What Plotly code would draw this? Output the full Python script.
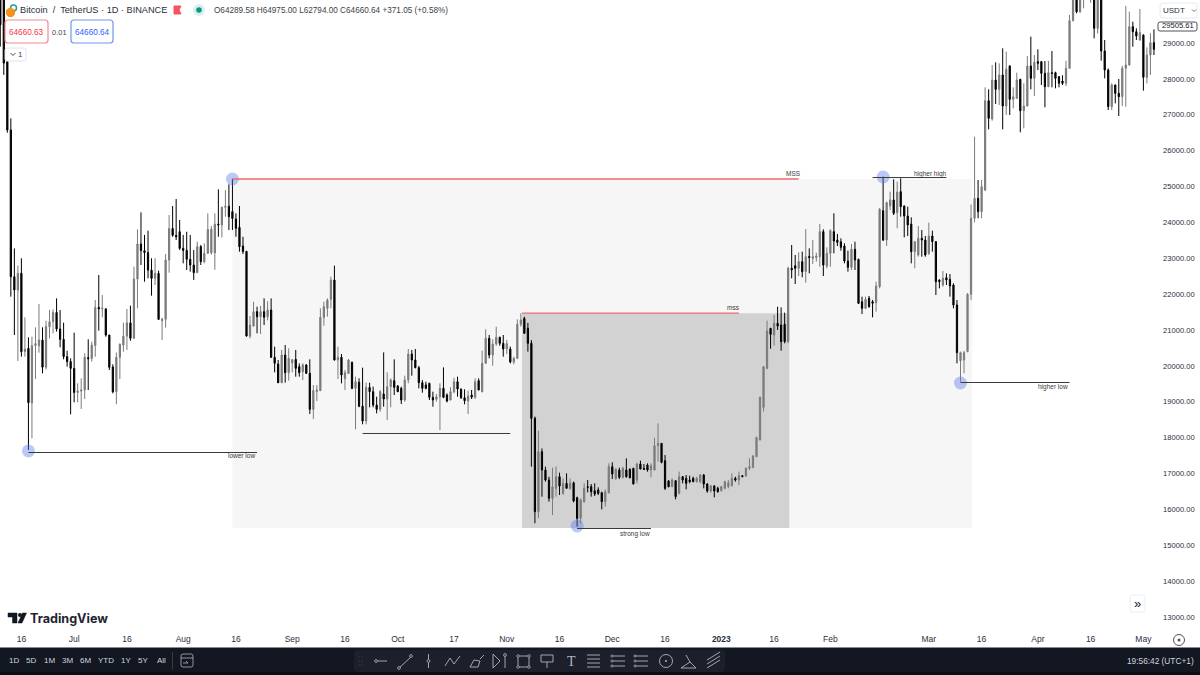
import pandas as pd
import plotly.graph_objects as go

first_day = "2022-06-10"
opens = [
30400,30200,28480,26575,22487,22116,22583,20400,20490,18970,
20570,20560,20720,19965,21090,21230,21490,21030,20740,20260,
20120,19930,19260,19300,19330,20230,20210,20570,21630,21590,
21590,20860,19970,19280,20240,20580,20830,21200,20770,22420,
23400,23210,23160,22670,22440,22580,21260,21300,22950,23830,
23640,23740,23277,23220,22970,22812,22600,23323,22905,23138,
23150,23150,23954,23930,24420,24450,24300,24094,23862,23340,
23190,20830,21112,21512,21370,21512,21370,21558,20239,20053,
19533,20304,19812,20084,20180,19980,19840,20025,19793,18790,
19290,19310,21354,21605,21855,22394,20165,20240,19647,19790,
20100,19375,19545,18880,18465,19402,19282,18910,18790,19217,
19078,19422,19589,19440,19375,19050,19608,20332,20165,19951,
19533,19470,19515,19124,19068,19140,19375,19190,19050,19282,
19560,19350,19115,19022,19190,19130,19590,19282,20072,20769,
20304,20610,20797,20630,20472,20470,20110,20210,21158,21326,
21047,20630,18539,15938,17610,17100,16820,16310,16590,16913,
16450,16728,16590,16746,16328,15752,16217,16635,16635,16523,
16542,16467,16217,16467,17192,16867,17099,16895,17099,17118,
17146,16820,17266,17146,17238,17099,17099,17777,17842,17359,
16793,16635,16802,16449,16913,16867,16820,16867,16774,16774,
16960,16709,16514,16653,16588,16523,16588,16635,16663,16867,
16820,16941,16932,17146,17173,17471,17935,18846,19933,21047,
20862,21187,21140,21159,20680,22720,22790,22720,22905,22630,
23050,23000,23020,23045,23742,22785,23138,23742,23510,23460,
23342,22924,22748,23250,22970,21790,21605,21885,21790,21763,
22209,24327,23509,24458,24624,24271,24856,24457,24178,23955,
23184,23091,23556,23510,23138,23621,23463,22394,22255,22460,
22413,22255,21698,20146,20165,20400,21995,24113,24670,24298,
24900,27392,26881,27968,27708,28108,27244,28358,27430,27457,
27987,27114,27244,28358,28015,28480,28480,28154,27782,28173,
28173,28060,27940,27875,28294,29622,30210,29870,30400,30480,
30310,30320,29408,30380,28777,28247,27225,27829,27597,27504,
28294,28387,29455,29315,29083,29223,28043,28665,29009,
]
highs = [
30500,30400,28526,26900,23275,22800,23000,21355,20797,20815,
21075,21726,21075,21260,21558,21577,21883,21558,21205,20425,
20211,20927,19515,19654,20350,20741,20676,21837,22534,21976,
21600,20870,20044,20370,20629,21205,21586,21679,22766,23806,
24280,23650,23769,23000,23000,22655,21340,23119,24206,24457,
24652,24066,23650,23740,23650,23230,23463,23370,23416,24250,
23900,24250,24921,24440,24900,25060,25210,24252,24457,23600,
23210,21391,21790,21651,21670,21883,21800,21883,20536,20165,
20444,20583,20490,20183,20444,20070,20072,20050,20183,19468,
19468,21605,21790,21883,22487,22794,20536,20332,19885,20193,
20120,19700,19654,19951,19533,19533,19422,19143,19329,20378,
19821,19654,20183,19468,19422,19728,20471,20444,20471,20000,
19607,19561,19533,19282,19217,19515,19960,19236,19403,19672,
19700,19375,19347,19310,19329,19654,19654,20425,21020,20862,
20741,21094,20815,20862,20722,20540,20258,21298,21465,21370,
21200,20720,18590,18195,17700,17192,16910,17164,17192,17025,
16867,17006,16867,16774,16356,16310,16728,16820,16709,16728,
16616,16495,16560,17285,17313,17146,17164,17192,17424,17146,
17160,17304,17359,17266,17285,17285,18000,18400,17850,17517,
16820,16867,16815,17053,16932,16960,16941,16913,16913,16988,
16988,16730,16681,16681,16635,16655,16802,16820,17006,16913,
17053,16960,17173,17424,17517,18028,19143,19998,21261,21060,
21419,21651,21633,21484,22766,23370,23091,23166,23184,23816,
23277,23509,23156,23955,23807,23305,23807,24253,23677,23556,
23417,23212,23398,23463,22990,21930,21930,21949,21840,22348,
24400,25275,24578,24856,25200,25135,25228,24470,24438,24141,
23480,23900,23788,23621,23992,23770,23480,22413,22645,22580,
22562,22302,21837,20400,20420,22030,24500,26389,25181,25181,
27764,27708,28386,28461,28433,28851,28758,28380,27764,28173,
28000,27875,28637,29176,28665,28823,28500,28498,28498,28777,
28200,28080,28100,28507,29780,30550,30600,30620,31000,30600,
30540,30340,30400,30400,29083,28290,27875,27840,27996,28368,
30031,29873,29594,29408,29947,29240,28879,29269,29380,
]
lows = [
28900,28110,26500,21930,20862,20137,20258,20258,17657,17982,
19635,20370,19793,19900,20769,20908,20955,20518,20183,19979,
18651,18985,18985,18800,19078,19329,20119,20258,20982,21354,
20815,19886,19236,18930,19635,20397,20444,20700,20760,21605,
22813,22348,22441,21958,22255,21280,20722,21066,22599,23600,
23509,23230,22859,22673,22627,22395,22590,22812,22859,23130,
23100,22680,23600,23580,24160,23788,23788,23600,23184,23120,
20815,20769,21100,20908,20889,21140,21270,20230,19821,19520,
19520,19533,19589,19821,19700,19700,19607,19780,18660,18520,
19022,19300,21122,21373,21605,20150,19635,19514,19329,19780,
19350,18232,18850,18372,18372,18846,18846,18678,18725,18864,
18493,18846,19189,19270,18938,19004,19515,19728,19933,19375,
19254,19347,19050,18864,19004,18214,19100,18985,19040,19236,
19143,19078,18929,18660,19078,19078,19320,19264,20060,20211,
20007,20564,20564,20258,20332,20072,20044,20190,21094,20890,
20397,17192,15613,15752,16356,16774,16217,15845,16356,16403,
16403,16580,16542,16198,15520,15613,16189,16477,16356,16375,
16403,16003,16077,16449,16848,16820,16848,16867,16885,16867,
16700,16728,17120,17099,17053,16895,17090,17331,17285,16542,
16616,16630,16282,16421,16728,16560,16730,16760,16750,16730,
16588,16467,16467,16337,16467,16495,16560,16590,16640,16775,
16681,16905,16915,17099,17145,17455,17930,18725,19905,20480,
20565,21000,20425,20630,20630,22441,22283,22506,22469,22320,
22580,22840,22905,22766,22506,22720,22766,23138,23342,23212,
22859,22627,22673,22673,21725,21447,21590,21620,21354,21512,
22162,23480,23342,24346,24206,23835,24160,23584,23621,22859,
22720,23045,23045,23045,23091,23184,21977,22162,22209,22255,
21930,21605,20072,19560,19793,20380,21837,24000,24113,24113,
24880,26593,26835,27300,27272,26593,26993,26993,27179,27440,
26510,26621,27230,27708,27522,28247,27829,27207,27770,27764,
27736,27764,27830,27800,28280,29600,29826,29840,29966,30220,
30120,29130,29265,28507,28015,27132,27130,27318,26965,27244,
27225,28370,28897,29083,29065,27671,27875,28108,28665,
]
closes = [
29500,28440,26575,22487,22116,22580,20397,20470,18976,20565,
20620,20720,19965,21095,21230,21490,21030,20740,20258,20120,
19930,19260,19300,19330,20240,20200,20580,21630,21590,21610,
20860,19960,19280,20240,20600,20830,21200,20770,22422,23398,
23210,23160,22670,22440,22580,21298,21300,22952,23830,23640,
23600,23277,23220,22970,22812,22599,23323,22905,23138,23800,
23810,23950,23930,24420,24450,24160,24110,23834,23323,23190,
20834,21140,21512,21370,21512,21354,21558,20239,20072,19533,
20304,19812,20211,20175,19933,19812,20025,19793,18790,19310,
19330,21354,21651,21837,22394,20165,20240,19747,19812,20165,
19375,19561,18875,18465,19402,19282,18910,18790,19282,19078,
19422,19608,19403,19282,19050,19608,20332,20165,19951,19533,
19375,19375,19124,19050,19140,19375,19124,19022,19282,19560,
19357,19115,19030,19160,19130,19560,19330,20072,20769,20304,
20610,20797,20630,20472,20620,20110,20210,21158,21280,20908,
20630,18539,15938,17610,17100,16820,16310,16635,16913,16653,
16728,16590,16728,16235,15752,16263,16588,16616,16495,16430,
16449,16217,16495,17192,16988,17118,16895,17146,16913,16885,
16709,17266,17127,17120,17099,17220,17777,17842,17313,16588,
16635,16820,16356,16913,16820,16728,16774,16774,16867,16960,
16709,16514,16653,16514,16495,16635,16774,16746,16867,16820,
16941,16913,17146,17192,17489,18000,19124,19979,20973,20880,
21187,21110,20676,20676,22720,22680,22720,22905,22627,23045,
23020,23045,23060,23742,22813,23138,23770,23480,23440,23305,
22924,22748,23250,22952,21744,21605,21856,21652,21745,22227,
24364,23509,24550,24625,24253,24847,24438,24178,23927,23184,
23463,23556,23510,23091,23621,23463,22348,22348,22441,22394,
22227,21698,20369,20369,20369,21995,24113,24670,24298,24996,
27392,26900,27968,27708,28108,27244,28266,27430,27500,27968,
27114,27244,28358,28015,28461,28433,28154,27782,28173,28154,
28015,27875,27875,28294,29622,30220,29870,30400,30480,30310,
30320,29408,30380,28777,28247,27225,27829,27597,27504,28294,
28387,29455,29315,29195,29288,28043,28665,29009,28823,
]
dates = pd.date_range(first_day, periods=len(opens), freq="D")

price_ticks = list(range(13000, 30000, 1000))
time_tick_dates = ["2022-06-16","2022-07-01","2022-07-16","2022-08-01","2022-08-16","2022-09-01","2022-09-16",
                   "2022-10-01","2022-10-17","2022-11-01","2022-11-16","2022-12-01","2022-12-16","2023-01-01",
                   "2023-01-16","2023-02-01","2023-03-01","2023-03-16","2023-04-01","2023-04-16","2023-05-01"]
time_tick_labels = ["16","Jul","16","Aug","16","Sep","16","Oct","17","Nov","16","Dec","16","<b>2023</b>",
                    "16","Feb","Mar","16","Apr","16","May"]

pivot_dates = ["2022-08-15","2022-06-18","2022-11-21","2023-02-16","2023-03-10"]
pivot_prices = [25210,17630,15540,25265,19524]

red_line_starts = ["2022-08-15","2022-11-05 08:00"]
red_line_ends = ["2023-01-23","2023-01-06"]
red_line_prices = [25210,21470]

black_line_starts = ["2022-06-18","2022-09-21","2022-11-21","2023-02-13","2023-03-10"]
black_line_ends = ["2022-08-22","2022-11-02","2022-12-12","2023-03-06","2023-04-10"]
black_line_prices = [17587,18117,15469,25250,19538]

label_texts = ["MSS","mss","lower low","strong low","higher high","higher low"]
label_dates = ["2023-01-21 10:00","2023-01-04 14:00","2022-08-17 12:00","2022-12-07 14:00","2023-03-01 08:00","2023-04-05 08:00"]
label_prices = [25350,21615,17490,15315,25335,19413]

INK = "#131722"
FONT = "Liberation Sans"
W, H = 1200, 675
PLOT_R, PLOT_B = 1155, 628


def sx(x):
    return x / W


def sy(y):
    return 1 - y / H


shapes = []
annotations = []


def rect(x0, y0, x1, y1, fill="rgba(0,0,0,0)", line=None, lw=1):
    shapes.append(dict(type="rect", xref="paper", yref="paper", x0=sx(x0), x1=sx(x1), y0=sy(y0), y1=sy(y1),
                       fillcolor=fill, line=dict(color=line or "rgba(0,0,0,0)", width=lw if line else 0), layer="above"))


def rrect(x0, y0, x1, y1, r, fill, line=None, lw=1):
    d = (f"M {sx(x0+r)} {sy(y0)} L {sx(x1-r)} {sy(y0)} Q {sx(x1)} {sy(y0)} {sx(x1)} {sy(y0+r)} "
         f"L {sx(x1)} {sy(y1-r)} Q {sx(x1)} {sy(y1)} {sx(x1-r)} {sy(y1)} L {sx(x0+r)} {sy(y1)} "
         f"Q {sx(x0)} {sy(y1)} {sx(x0)} {sy(y1-r)} L {sx(x0)} {sy(y0+r)} Q {sx(x0)} {sy(y0)} {sx(x0+r)} {sy(y0)} Z")
    shapes.append(dict(type="path", xref="paper", yref="paper", path=d, fillcolor=fill,
                       line=dict(color=line or "rgba(0,0,0,0)", width=lw if line else 0), layer="above"))


def poly(points, color="#b2b5be", lw=1, fill="rgba(0,0,0,0)", close=False):
    d = "M " + " L ".join(f"{sx(a)} {sy(b)}" for a, b in points) + (" Z" if close else "")
    shapes.append(dict(type="path", xref="paper", yref="paper", path=d, fillcolor=fill,
                       line=dict(color=color, width=lw), layer="above"))


def dot(cx, cy, r, fill="rgba(0,0,0,0)", line=None, lw=1):
    shapes.append(dict(type="circle", xref="paper", yref="paper", x0=sx(cx-r), x1=sx(cx+r), y0=sy(cy-r), y1=sy(cy+r),
                       fillcolor=fill, line=dict(color=line or "rgba(0,0,0,0)", width=lw if line else 0), layer="above"))


def label(x, y, s, size=9, color=INK, anchor="left", family=FONT):
    annotations.append(dict(xref="paper", yref="paper", x=sx(x), y=sy(y), text=s, showarrow=False, xanchor=anchor,
                            yanchor="middle", align=anchor, font=dict(size=size, color=color, family=family),
                            borderpad=0, borderwidth=0))


# price zones, drawn under the candles
for x0, x1, y0, y1, c in [("2022-08-15", "2023-03-13 08:00", 15483, 25210, "#f6f6f6"),
                          ("2022-11-05 08:00", "2023-01-20 08:00", 15483, 21470, "#d2d2d2")]:
    shapes.append(dict(type="rect", xref="x", yref="y", x0=x0, x1=x1, y0=y0, y1=y1, fillcolor=c,
                       line=dict(width=0), layer="below"))

for a, b, p in zip(red_line_starts, red_line_ends, red_line_prices):
    shapes.append(dict(type="line", xref="x", yref="y", x0=a, x1=b, y0=p, y1=p,
                       line=dict(color="#f0686c", width=1.3), layer="above"))
for a, b, p in zip(black_line_starts, black_line_ends, black_line_prices):
    shapes.append(dict(type="line", xref="x", yref="y", x0=a, x1=b, y0=p, y1=p,
                       line=dict(color="#3a3a3a", width=1), layer="above"))
for t, d, p in zip(label_texts, label_dates, label_prices):
    annotations.append(dict(xref="x", yref="y", x=d, y=p, text=t, showarrow=False,
                            font=dict(size=6.5, color="#3a3a3a", family=FONT)))

fig = go.Figure()
fig.add_trace(go.Candlestick(
    x=dates, open=opens, high=highs, low=lows, close=closes,
    increasing=dict(line=dict(color="#7b7b7b", width=1), fillcolor="#7b7b7b"),
    decreasing=dict(line=dict(color="#000000", width=1), fillcolor="#000000"),
    whiskerwidth=0, hoverinfo="skip", showlegend=False))
fig.add_trace(go.Scatter(x=pivot_dates, y=pivot_prices, mode="markers", hoverinfo="skip", showlegend=False,
                         marker=dict(size=13, color="rgba(82,120,230,0.40)", line=dict(width=0))))

# header
dot(10.5, 12.5, 4.5, "#f7931a")
dot(13.5, 8, 3, "#ffffff", "#1f9e94", 1.5)
dot(10.5, 12.5, 4.5, "#f7931a")
label(19.5, 10.5, "Bitcoin  /  TetherUS · 1D · BINANCE", 9.2, "#2a2e39")
poly([(174, 6), (181, 6), (179, 10), (181, 14), (174, 14)], "#f7525f", 1, "#f7525f", True)
dot(199, 10, 6, "#d9f0ed")
dot(199, 10, 2.8, "#089981")
label(214, 10.5, "O64289.58 H64975.00 L62794.00 C64660.64 +371.05 (+0.58%)", 8.2, "#3b3f4a")
rrect(5, 20, 48, 43, 3, "#ffffff", "#f6888f", 1.2)
label(26.5, 32, "64660.63", 8.2, "#f23645", "center")
label(59, 32, "0.01", 7.5, "#434651", "center")
rrect(71, 20, 113, 43, 3, "#ffffff", "#6f97f0", 1.2)
label(92, 32, "64660.64", 8.2, "#2962ff", "center")
rrect(5, 48, 26, 61, 2, "#ffffff", "#e0e3eb", 1)
poly([(10.5, 53), (13, 55.5), (15.5, 53)], "#434651", 1)
label(20, 54.5, "1", 8, "#434651", "center")

# price scale widgets
rrect(1158, 22, 1197, 31, 2, "#ffffff", "#50535e", 1)
rrect(1160, 3, 1197, 18, 3, "#ffffff", "#e8eaf0", 1)
label(1163, 10.5, "USDT", 8, "#2a2e39")
poly([(1192, 9.5), (1194, 11.5), (1196, 9.5)], "#50535e", 0.8)
label(1178, 25.5, "29505.61", 7.6, "#131722", "center")

# logo
poly([(8, 613), (17, 613), (17, 623), (12.5, 623), (12.5, 617), (8, 617)], INK, 0.5, INK, True)
dot(20, 615, 2, INK)
poly([(22.5, 613), (26.5, 613), (22, 623), (18, 623)], INK, 0.5, INK, True)
label(30, 618, "<b>TradingView</b>", 12.6, "#1f2430", family="Inter")
rrect(1130, 595, 1145, 612, 2, "#ffffff", "#eceef2", 1)
label(1137.5, 603, "»", 13, INK, "center")
dot(1179, 640, 5.5, "#ffffff", "#50535e", 1)
dot(1179, 640, 1.5, "#50535e")

# bottom toolbar
rect(0, 647.5, W, H, "#131722")
rect(0, 672, W, H, "#0c0e15")
rrect(354, 650, 725, 672, 4, "#1c202b")
for t, x in zip(["1D", "5D", "1M", "3M", "6M", "YTD", "1Y", "5Y", "All"], [14, 31, 49, 67, 85, 106, 126, 143, 161]):
    label(x, 660.5, t, 8, "#d1d4dc", "center")
poly([(172.5, 652), (172.5, 669)], "#363a45", 1)
IC = "#b2b5be"
rrect(181, 654, 193, 667, 2, "rgba(0,0,0,0)", IC, 0.8)
poly([(181, 658), (193, 658)], IC, 0.8)
poly([(183, 663), (188, 663), (186, 661)], IC, 0.8)
label(1194, 660.5, "19:56:42 (UTC+1)", 8.3, "#d1d4dc", "right")
for x in (359, 362):
    for y in (657, 661, 665):
        dot(x, y, 0.5, "#50535e")
poly([(376, 661), (387, 661)], IC, 0.9)
dot(376, 661, 1.4, "#1c202b", IC, 0.8)
poly([(399, 668), (412, 656)], IC, 0.9)
dot(399, 668, 1.4, "#1c202b", IC, 0.8)
dot(411, 656, 1.4, "#1c202b", IC, 0.8)
poly([(428.5, 654), (428.5, 668)], IC, 0.9)
dot(428.5, 661, 1.4, "#1c202b", IC, 0.8)
poly([(445, 666), (450, 658), (454, 664), (460, 656)], IC, 0.9)
poly([(470, 667), (474, 660), (480, 661), (478, 667), (470, 667)], IC, 0.9)
poly([(480, 659), (484, 655)], IC, 0.9)
poly([(493, 654), (493, 668), (500, 661), (493, 654)], IC, 0.9)
poly([(505, 656), (505, 668)], IC, 0.9)
dot(505, 655, 1.4, "#1c202b", IC, 0.8)
rect(518, 656, 529, 667, line=IC, lw=0.9)
for cx, cy in [(518, 656), (529, 656), (518, 667), (529, 667)]:
    dot(cx, cy, 1.3, "#1c202b", IC, 0.7)
rect(541, 655, 553, 662, line=IC, lw=0.9)
poly([(547, 662), (547, 668)], IC, 0.9)
label(571, 661, "T", 14, IC, "center", "Liberation Serif")
for y in (655, 659, 663, 667):
    poly([(587, y), (600, y)], IC, 0.9)
for x0 in (611, 634):
    for y in (656, 661, 666):
        poly([(x0, y), (x0 + 14, y)], IC, 0.9)
        dot(x0 + 1, y, 1.1, "#1c202b", IC, 0.7)
dot(666, 661, 6.5, "rgba(0,0,0,0)", IC, 0.9)
dot(666, 661, 1, IC)
poly([(681, 668), (696, 668), (690, 662), (686, 655)], IC, 0.9)
poly([(681, 668), (690, 662)], IC, 0.9)
for dy in (0, 4, 8):
    poly([(707, 664 + dy - 4), (720, 656 + dy - 4)], IC, 0.9)

fig.update_layout(
    width=W, height=H, autosize=False, margin=dict(l=0, r=0, t=0, b=0),
    paper_bgcolor="#ffffff", plot_bgcolor="#ffffff", showlegend=False, boxgap=0.5, hovermode=False,
    font=dict(family=FONT, color=INK, size=9), shapes=shapes, annotations=annotations,
    xaxis=dict(type="date", domain=[0, PLOT_R / W], range=["2022-06-09 22:00", "2023-05-04 07:12"],
               rangeslider=dict(visible=False), showgrid=False, zeroline=False, showline=False,
               tickmode="array", tickvals=time_tick_dates, ticktext=time_tick_labels,
               ticks="", tickangle=0, tickfont=dict(size=8.5, color="#2a2e39"), ticklabelstandoff=4),
    yaxis=dict(domain=[1 - PLOT_B / H, 1], range=[12696, 30198], side="right", showgrid=False, zeroline=False,
               showline=False, tickmode="array", tickvals=price_ticks, ticktext=[f"{p:.2f}" for p in price_ticks],
               ticks="", tickfont=dict(size=7.6, color="#2a2e39"), ticklabelstandoff=7, anchor="x"),
)
fig.write_html("out.html", config=dict(displayModeBar=False, staticPlot=True),
               post_script="document.body.style.margin='0';document.body.style.overflow='hidden';")
